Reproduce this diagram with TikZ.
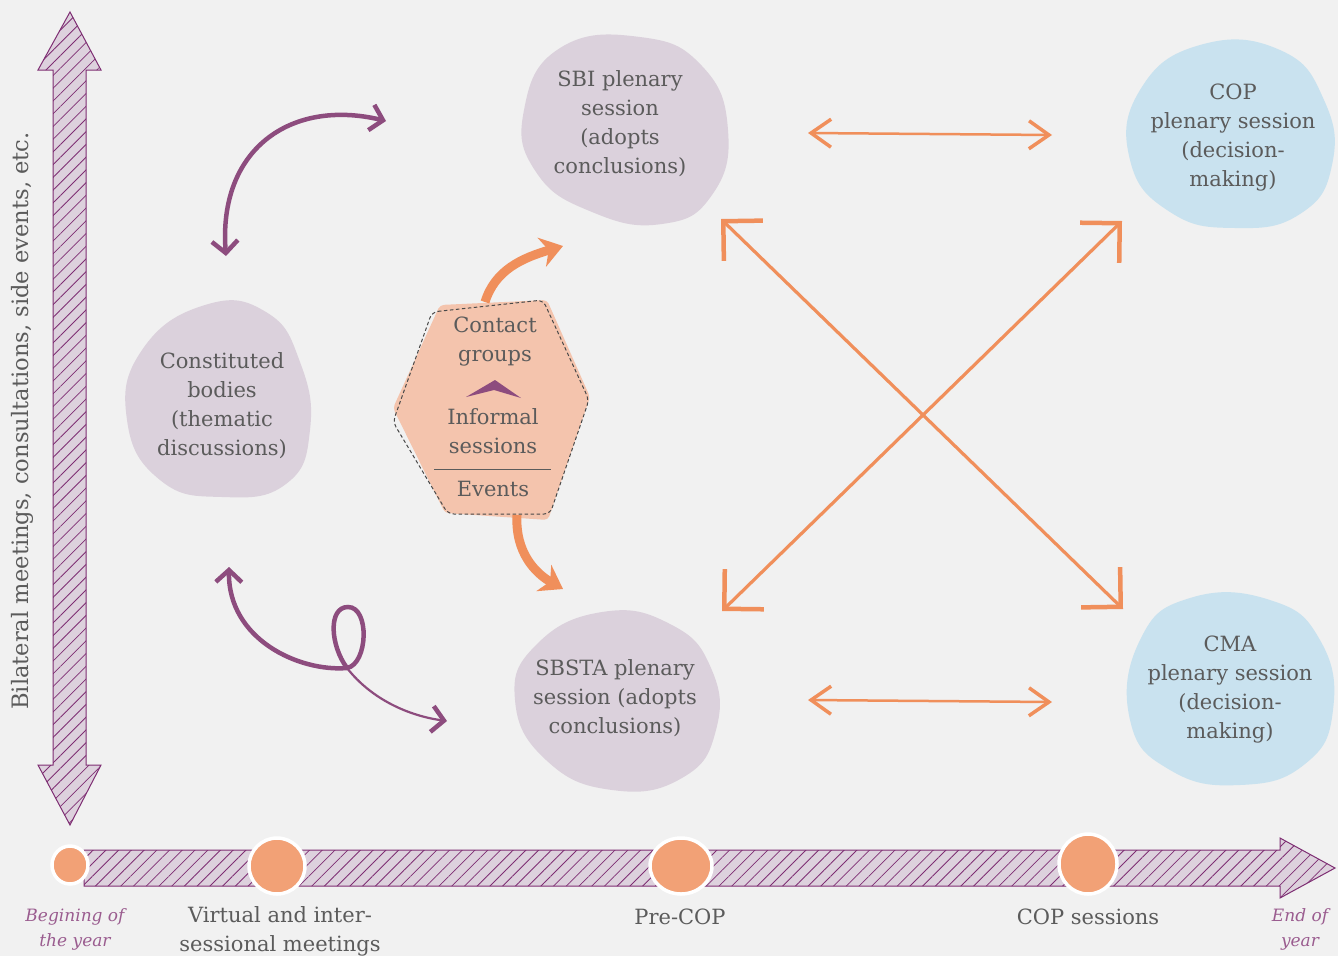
\documentclass[tikz,border=0pt]{standalone}
\usepackage{fontspec}
\setmainfont{DejaVu Serif}
\usetikzlibrary{arrows.meta,patterns.meta,calc}
\definecolor{bg}{HTML}{F1F1F1}
\definecolor{txt}{HTML}{5B5B5B}
\definecolor{gblob}{HTML}{DBD1DC}
\definecolor{bblob}{HTML}{C9E2EF}
\definecolor{orA}{HTML}{F08F5B}
\definecolor{orB}{HTML}{F2A176}
\definecolor{hexfill}{HTML}{F4C4AD}
\definecolor{purp}{HTML}{8D4C7E}
\definecolor{hpurp}{HTML}{7E2E73}
\definecolor{hfill}{HTML}{DDD1DD}
\definecolor{ital}{HTML}{9A5C8F}
\begin{document}
\begin{tikzpicture}[x=1pt,y=-1pt,
  lbl/.style={font=\fontsize{21}{29}\selectfont, text=txt, align=center, inner sep=0pt},
  itl/.style={font=\fontsize{17}{25}\selectfont\itshape, text=ital, align=center, inner sep=0pt},
  hatchshape/.style={draw=hpurp, line width=1pt, fill=hfill,
    postaction={pattern={Lines[angle=45,distance=9pt,line width=0.8pt]}, pattern color=hpurp}},
  tlblob/.style={fill=orB, draw=white, line width=3.5pt},
  purparrow/.style={draw=purp, line width=4.5pt, line cap=round,
    {Straight Barb[length=12pt,width=26pt,line width=4.5pt]}-{Straight Barb[length=12pt,width=26pt,line width=4.5pt]}},
  orline/.style={draw=orA, line width=3.2pt,
    {Straight Barb[length=28pt,width=56pt,line width=4.5pt]}-{Straight Barb[length=28pt,width=56pt,line width=4.5pt]}},
  orhline/.style={draw=orA, line width=2.5pt,
    {Straight Barb[length=20pt,width=28pt,line width=3.5pt]}-{Straight Barb[length=20pt,width=28pt,line width=3.5pt]}},
  orthick/.style={draw=orA, line width=9pt, -{Stealth[length=22pt,width=30pt]}}
]
\useasboundingbox (0,0) rectangle (1338,956);
\fill[bg] (0,0) rectangle (1338,956);

% vertical double arrow
\draw[hatchshape] (53,70) -- (38,70) -- (70,12) -- (101,70) -- (86,70) -- (86,765) -- (101,765) -- (70,825) -- (38,765) -- (53,765) -- cycle;
\node[lbl, font=\fontsize{22.6}{29}\selectfont, rotate=90] (side) at (22,421) {Bilateral meetings, consultations, side events, etc.};

% horizontal timeline arrow
\draw[hatchshape] (84,850) -- (1280,850) -- (1280,838) -- (1335,868) -- (1280,898) -- (1280,886) -- (84,886) -- cycle;
\fill[tlblob] (70,865) ellipse [x radius=18, y radius=19];
\fill[tlblob] (277,866) ellipse [x radius=28, y radius=28];
\fill[tlblob] (681,866) ellipse [x radius=31, y radius=28];
\fill[tlblob] (1088,864) ellipse [x radius=29, y radius=30];

\node[itl] (begin) at (75,929) {Begining of\\the year};
\node[lbl] (virt) at (280,931) {Virtual and inter-\\sessional meetings};
\node[lbl] (precop) at (680,917) {Pre-COP};
\node[lbl] (copsess) at (1088,917) {COP sessions};
\node[itl] (endy) at (1300,929) {End of\\year};

% blobs
\fill[gblob] plot[smooth cycle, tension=0.8] coordinates {(560,48) (640,37) (702,66) (728,130) (712,195) (662,224) (592,212) (536,172) (524,110)};
\node[lbl] (sbi) at (620,124) {SBI plenary\\session\\(adopts\\conclusions)};

\fill[gblob] plot[smooth cycle, tension=0.8] coordinates {(205,305) (266,312) (300,362) (310,430) (286,484) (222,497) (160,480) (127,420) (142,350)};
\node[lbl] (cb) at (222,406) {Constituted\\bodies\\(thematic\\discussions)};

\fill[gblob] plot[smooth cycle, tension=0.8] coordinates {(602,612) (670,624) (711,668) (716,730) (682,778) (612,790) (546,760) (515,700) (536,645)};
\node[lbl] (sbsta) at (615,698) {SBSTA plenary\\session (adopts\\conclusions)};

\fill[bblob] plot[smooth cycle, tension=0.8] coordinates {(1200,45) (1280,50) (1324,100) (1332,165) (1300,214) (1235,228) (1170,212) (1130,160) (1140,90)};
\node[lbl] (cop) at (1233,138) {COP\\plenary session\\(decision-\\making)};

\fill[bblob] plot[smooth cycle, tension=0.8] coordinates {(1190,598) (1270,600) (1320,640) (1333,710) (1305,764) (1240,785) (1170,770) (1130,720) (1140,640)};
\node[lbl] (cma) at (1230,690) {CMA\\plenary session\\(decision-\\making)};

% hexagon
\fill[hexfill, rounded corners=4pt] (440,305) -- (547,300) -- (590,397) -- (548,520) -- (445,513) -- (393,408) -- cycle;
\draw[txt!80!black, line width=1pt, dash pattern=on 3.5pt off 2.5pt, rounded corners=6pt] (432,312) -- (543,300) -- (589,400) -- (550,514) -- (448,514) -- (393,422) -- cycle;
\node[lbl] (contact) at (495,342) {Contact\\groups};
\fill[purp] (466,397) -- (495,380) -- (521,398) -- (494,390) -- cycle;
\node[lbl] (inf) at (493,431) {Informal\\sessions};
\draw[txt, line width=1pt] (434,469) -- (551,469);
\node[lbl] (events) at (493,489) {Events};

% coordinates for connectors
\coordinate (hexN) at (485,302);
\coordinate (hexS) at (517,515);
\coordinate (sbiIn) at (563,246);
\coordinate (sbstaIn) at (563,589);
\coordinate (ta) at (226,256);
\coordinate (tb) at (386,121);
\coordinate (ba) at (229,567);
\coordinate (bx) at (347,668);
\coordinate (bb) at (447,721);
\coordinate (sbiR) at (808,133);
\coordinate (copL) at (1052,135);
\coordinate (sbstaR) at (808,700);
\coordinate (cmaL) at (1052,702);
\coordinate (xa) at (721,219);
\coordinate (xb) at (1123,609);
\coordinate (xc) at (722,611);
\coordinate (xd) at (1122,221);

% orange thick arrows from hexagon
\draw[orthick] (hexN) .. controls (495,270) and (522,258) .. (sbiIn);
\draw[orthick] (hexS) .. controls (515,552) and (535,573) .. (sbstaIn);

% horizontal orange arrows
\draw[orhline] (sbiR) -- (copL);
\draw[orhline] (sbstaR) -- (cmaL);

% X arrows
\draw[orline] (xa) -- (xb);
\draw[orline] (xc) -- (xd);

% purple curved arrows
\draw[purparrow] (ta) .. controls (218,150) and (290,98) .. (tb);
\draw[draw=purp, line width=4.5pt, line cap=round, {Straight Barb[length=12pt,width=26pt,line width=4.5pt]}-]
  (ba) .. controls (228,640) and (300,672) .. (bx)
  .. controls (368,664) and (370,607) .. (348,607)
  .. controls (328,607) and (330,645) .. (bx);
\draw[draw=purp, line width=2.2pt, line cap=round, -{Straight Barb[length=12pt,width=26pt,line width=4.5pt]}]
  (bx) .. controls (372,700) and (410,716) .. (bb);
\end{tikzpicture}
\end{document}
